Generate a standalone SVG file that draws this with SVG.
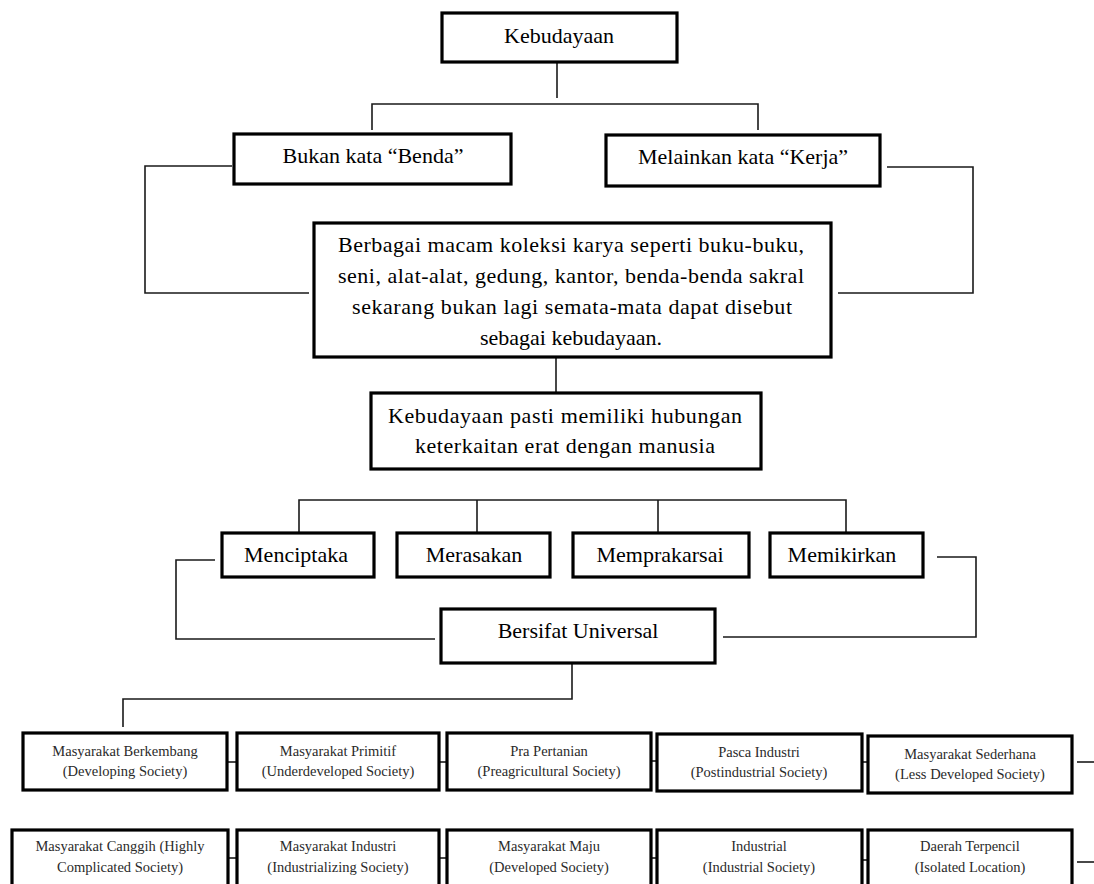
<svg xmlns="http://www.w3.org/2000/svg" width="1094" height="884" viewBox="0 0 1094 884">
<style>
.box{fill:#fff;stroke:#000;stroke-width:3.2}
.conn{fill:none;stroke:#1a1a1a;stroke-width:1.6}
.t{font-family:"Liberation Serif","Times New Roman",serif;font-size:22px;text-anchor:middle;fill:#000}
.s{font-family:"Liberation Serif","Times New Roman",serif;font-size:14.5px;text-anchor:middle;fill:#2a2a2a}
</style>
<rect width="1094" height="884" fill="#fff"/>
<g id="connectors">
<polyline class="conn" points="557,62 557,98"/>
<polyline class="conn" points="372,130 372,104 758,104 758,130"/>
<polyline class="conn" points="232,166 145,166 145,293 309,293"/>
<polyline class="conn" points="887,167 973,167 973,293 838,293"/>
<polyline class="conn" points="556,357 556,392"/>
<polyline class="conn" points="299,533 299,500 846,500 846,533"/>
<polyline class="conn" points="477,500 477,533"/>
<polyline class="conn" points="658,500 658,533"/>
<polyline class="conn" points="215,560 176,560 176,639 435,639"/>
<polyline class="conn" points="937,557 976,557 976,637 723,637"/>
<polyline class="conn" points="572,663 572,699 123,699 123,727"/>
<line class="conn" x1="227" y1="762" x2="245" y2="762"/>
<line class="conn" x1="439" y1="762" x2="452" y2="762"/>
<line class="conn" x1="651" y1="761" x2="662" y2="761"/>
<line class="conn" x1="862" y1="762" x2="873" y2="762"/>
<line class="conn" x1="1077" y1="762" x2="1094" y2="762"/>
<line class="conn" x1="228" y1="858" x2="241" y2="858"/>
<line class="conn" x1="439" y1="858" x2="452" y2="858"/>
<line class="conn" x1="651" y1="858" x2="662" y2="858"/>
<line class="conn" x1="862" y1="860" x2="873" y2="860"/>
<line class="conn" x1="1077" y1="862" x2="1094" y2="862"/>
</g>
<g id="n-kebudayaan"><rect class="box" x="442" y="13" width="235" height="49"/><text class="t" x="559" y="43">Kebudayaan</text></g>
<g id="n-bukan"><rect class="box" x="234" y="134" width="277" height="50"/><text class="t" x="373" y="163">Bukan kata “Benda”</text></g>
<g id="n-melainkan"><rect class="box" x="606" y="135" width="274" height="51"/><text class="t" x="743" y="164">Melainkan  kata “Kerja”</text></g>
<g id="n-berbagai"><rect class="box" x="314" y="223" width="517" height="134"/>
<text class="t" x="571" y="252" textLength="466" lengthAdjust="spacing">Berbagai macam koleksi karya seperti buku-buku,</text>
<text class="t" x="571" y="283" textLength="466" lengthAdjust="spacing">seni, alat-alat, gedung, kantor, benda-benda sakral</text>
<text class="t" x="572" y="314" textLength="440" lengthAdjust="spacing">sekarang bukan lagi semata-mata dapat disebut</text>
<text class="t" x="571" y="345">sebagai kebudayaan.</text></g>
<g id="n-pasti"><rect class="box" x="371" y="393" width="390" height="76"/>
<text class="t" x="565" y="423" textLength="354" lengthAdjust="spacing">Kebudayaan pasti memiliki hubungan</text>
<text class="t" x="565" y="453" textLength="300" lengthAdjust="spacing">keterkaitan erat dengan manusia</text></g>
<g id="n-menciptaka"><rect class="box" x="222" y="533" width="152" height="44"/><text class="t" x="296" y="562">Menciptaka</text></g>
<g id="n-merasakan"><rect class="box" x="397" y="533" width="153" height="44"/><text class="t" x="474" y="562">Merasakan</text></g>
<g id="n-memprakarsai"><rect class="box" x="573" y="533" width="176" height="44"/><text class="t" x="660" y="562">Memprakarsai</text></g>
<g id="n-memikirkan"><rect class="box" x="770" y="533" width="153" height="44"/><text class="t" x="842" y="562">Memikirkan</text></g>
<g id="n-bersifat"><rect class="box" x="441" y="609" width="274" height="54"/><text class="t" x="578" y="638">Bersifat  Universal</text></g>
<g id="n-berkembang"><rect class="box" x="23" y="733" width="204" height="57"/><text class="s" x="125" y="756">Masyarakat Berkembang</text><text class="s" x="125" y="776">(Developing Society)</text></g>
<g id="n-primitif"><rect class="box" x="237" y="733" width="202" height="57"/><text class="s" x="338" y="756">Masyarakat Primitif</text><text class="s" x="338" y="776">(Underdeveloped Society)</text></g>
<g id="n-prapertanian"><rect class="box" x="447" y="733" width="204" height="57"/><text class="s" x="549" y="756">Pra Pertanian</text><text class="s" x="549" y="776">(Preagricultural Society)</text></g>
<g id="n-pasca"><rect class="box" x="657" y="734" width="205" height="57"/><text class="s" x="759" y="757">Pasca Industri</text><text class="s" x="759" y="777">(Postindustrial  Society)</text></g>
<g id="n-sederhana"><rect class="box" x="868" y="736" width="204" height="57"/><text class="s" x="970" y="759">Masyarakat Sederhana</text><text class="s" x="970" y="779">(Less Developed Society)</text></g>
<g id="n-canggih"><rect class="box" x="12" y="830" width="216" height="62"/><text class="s" x="120" y="851">Masyarakat Canggih (Highly</text><text class="s" x="120" y="872">Complicated Society)</text></g>
<g id="n-industri"><rect class="box" x="237" y="830" width="202" height="62"/><text class="s" x="338" y="851">Masyarakat Industri</text><text class="s" x="338" y="872">(Industrializing Society)</text></g>
<g id="n-maju"><rect class="box" x="447" y="830" width="204" height="62"/><text class="s" x="549" y="851">Masyarakat Maju</text><text class="s" x="549" y="872">(Developed Society)</text></g>
<g id="n-industrial"><rect class="box" x="657" y="830" width="205" height="62"/><text class="s" x="759" y="851">Industrial</text><text class="s" x="759" y="872">(Industrial Society)</text></g>
<g id="n-terpencil"><rect class="box" x="868" y="830" width="204" height="62"/><text class="s" x="970" y="851">Daerah Terpencil</text><text class="s" x="970" y="872">(Isolated Location)</text></g>
</svg>
